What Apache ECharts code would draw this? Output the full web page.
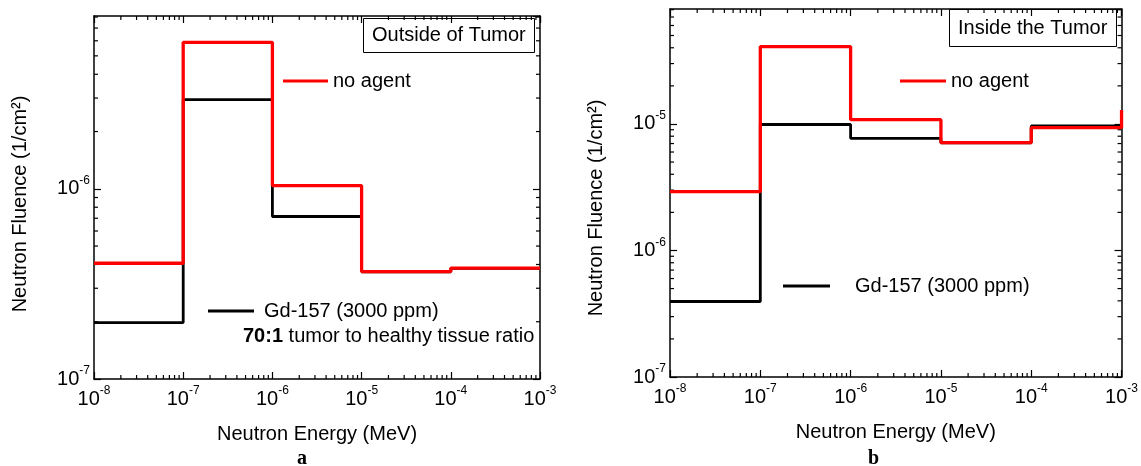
<!DOCTYPE html>
<html>
<head>
<meta charset="utf-8">
<script src="https://cdn.jsdelivr.net/npm/echarts@6/dist/echarts.min.js"></script>
<style>
  html, body { margin: 0; padding: 0; background: #fff; }
  #main { width: 1141px; height: 466px; }
</style>
</head>
<body>
<div id="main"></div>
<script>
// bin edges of the energy groups (MeV)
var energyEdges = [1e-8, 1e-7, 1e-6, 1e-5, 1e-4, 1e-3];

// fluence per group, last entry = value at the upper edge
var outsideNoAgent = [4.06e-7, 5.89e-6, 1.04e-6, 3.67e-7, 3.83e-7, 3.83e-7];
var outsideGd = [1.98e-7, 2.94e-6, 7.15e-7, 3.66e-7, 3.82e-7, 3.82e-7];
var insideNoAgent = [2.92e-6, 4.09e-5, 1.08e-5, 7.11e-6, 9.35e-6, 1.29e-5];
var insideGd = [3.95e-7, 9.9e-6, 7.7e-6, 7.1e-6, 9.64e-6, 9.64e-6];

var xRange = [1e-8, 1e-3];
var yRangeOut = [1e-7, 8.1e-6];
var yRangeIn = [1e-7, 8.1e-5];

// minor log ticks
var minorMult = [2, 3, 4, 5, 6, 7, 8, 9];
var xDecades = [-8, -7, -6, -5, -4];
var yDecadesOut = [-7, -6];
var yDecadesIn = [-7, -6, -5];

var FONT = '"Liberation Sans", Arial, sans-serif';

function stepData(vals) {
    return energyEdges.map(function (e, i) { return [e, vals[i]]; });
}

function minorTicks(xr, yr, yDec) {
    var out = [];
    xDecades.forEach(function (d) {
        minorMult.forEach(function (m) { out.push([m * Math.pow(10, d), yr[0], 0]); });
    });
    yDec.forEach(function (d) {
        minorMult.forEach(function (m) {
            var v = m * Math.pow(10, d);
            if (v <= yr[1]) out.push([xr[0], v, 1]);
        });
    });
    return out;
}

function tickRenderer(xr, yr) {
    return function (params, api) {
        var kind = api.value(2);
        var L = 4;
        var st = { stroke: '#000', lineWidth: 1.2 };
        if (kind === 0) {
            var v = api.value(0);
            var b = api.coord([v, yr[0]]), t = api.coord([v, yr[1]]);
            return { type: 'group', children: [
                { type: 'line', shape: { x1: b[0], y1: b[1], x2: b[0], y2: b[1] - L }, style: st },
                { type: 'line', shape: { x1: t[0], y1: t[1], x2: t[0], y2: t[1] + L }, style: st }
            ] };
        }
        var w = api.value(1);
        var l = api.coord([xr[0], w]), r = api.coord([xr[1], w]);
        return { type: 'group', children: [
            { type: 'line', shape: { x1: l[0], y1: l[1], x2: l[0] + L, y2: l[1] }, style: st },
            { type: 'line', shape: { x1: r[0], y1: r[1], x2: r[0] - L, y2: r[1] }, style: st }
        ] };
    };
}

function powLabel(v) {
    var e = Math.round(Math.log10(v));
    if (Math.abs(Math.log10(v) - e) > 1e-6) return '';
    return '{b|10}{s|' + e + '}';
}

var labelRich = {
    b: { fontSize: 20, fontFamily: FONT, color: '#000', lineHeight: 28 },
    s: { fontSize: 12, fontFamily: FONT, color: '#000', lineHeight: 12, verticalAlign: 'top' }
};

function xAxes(gridIndex) {
    var base = {
        type: 'log', logBase: 10, gridIndex: gridIndex, min: xRange[0], max: xRange[1],
        axisLine: { lineStyle: { color: '#000', width: 1.5 } },
        axisTick: { inside: true, length: 7, lineStyle: { color: '#000', width: 1.2 } },
        splitLine: { show: false }
    };
    var bottom = Object.assign({}, base, {
        position: 'bottom',
        name: 'Neutron Energy (MeV)', nameLocation: 'middle', nameGap: 45,
        nameTextStyle: { fontSize: 20, fontFamily: FONT, color: '#000' },
        axisLabel: { margin: 6, formatter: powLabel, rich: labelRich }
    });
    var top = Object.assign({}, base, { position: 'top', axisLabel: { show: false } });
    return [bottom, top];
}

function yAxes(gridIndex, yr, padRight) {
    var base = {
        type: 'log', logBase: 10, gridIndex: gridIndex, min: yr[0], max: yr[1],
        axisLine: { lineStyle: { color: '#000', width: 1.5 } },
        axisTick: { inside: true, length: 7, lineStyle: { color: '#000', width: 1.2 } },
        splitLine: { show: false }
    };
    var left = Object.assign({}, base, {
        position: 'left',
        name: 'Neutron Fluence (1/cm²)', nameLocation: 'middle', nameGap: 64,
        nameTextStyle: { fontSize: 20, fontFamily: FONT, color: '#000', padding: [0, padRight, 0, 0] },
        axisLabel: { margin: 4, showMaxLabel: false, formatter: powLabel, rich: labelRich }
    });
    var right = Object.assign({}, base, { position: 'right', axisLabel: { show: false } });
    return [left, right];
}

function stepSeries(name, vals, color, width, xi, yi) {
    return {
        name: name, type: 'line', step: 'end', xAxisIndex: xi, yAxisIndex: yi,
        symbol: 'none', data: stepData(vals),
        itemStyle: { color: color },
        lineStyle: { color: color, width: width }
    };
}

function legendBox(name, left, top, w, pad) {
    return {
        data: [name], left: left, top: top, padding: 0, orient: 'horizontal',
        icon: 'rect', itemWidth: w, itemHeight: 3, selectedMode: false,
        textStyle: { fontSize: 20, fontFamily: FONT, color: '#000', lineHeight: 20, padding: [0, 0, 0, pad] }
    };
}

var option = {
    animation: false,
    backgroundColor: '#fff',
    title: [{
        text: 'Outside of Tumor', left: 363, top: 18, padding: [7, 9],
        borderColor: '#000', borderWidth: 1,
        textStyle: { fontSize: 20, fontWeight: 'normal', fontFamily: FONT, color: '#000', lineHeight: 21 }
    }, {
        text: 'Inside the Tumor', left: 949, top: 9, padding: [9, 9],
        borderColor: '#000', borderWidth: 1,
        textStyle: { fontSize: 20, fontWeight: 'normal', fontFamily: FONT, color: '#000', lineHeight: 20 }
    }],
    legend: [
        legendBox('no agent', 283, 71, 45, 0),
        legendBox('Gd-157 (3000 ppm)', 208, 301, 46, 5),
        legendBox('no agent', 900, 71, 46, 0),
        legendBox('Gd-157 (3000 ppm)', 783, 276, 47, 20)
    ],
    grid: [
        { left: 94, right: 601, top: 16, bottom: 87 },
        { left: 670, right: 19, top: 9, bottom: 89 }
    ],
    xAxis: xAxes(0).concat(xAxes(1)),
    yAxis: yAxes(0, yRangeOut, 13).concat(yAxes(1, yRangeIn, 30)),
    graphic: [{
        type: 'text', left: 243, top: 326,
        style: {
            text: '{b|70:1} tumor to healthy tissue ratio',
            font: '20px ' + FONT, fill: '#000',
            rich: { b: { fontWeight: 'bold', fontSize: 20, fontFamily: FONT } }
        }
    }, {
        type: 'text', left: 297, top: 449,
        style: { text: 'a', font: 'bold 20px "Liberation Serif", "Times New Roman", serif', fill: '#000' }
    }, {
        type: 'text', left: 868, top: 449,
        style: { text: 'b', font: 'bold 20px "Liberation Serif", "Times New Roman", serif', fill: '#000' }
    }],
    series: [
        stepSeries('Gd-157 (3000 ppm)', outsideGd, '#000', 2.8, 0, 0),
        stepSeries('no agent', outsideNoAgent, '#ff0000', 3.3, 0, 0),
        stepSeries('Gd-157 (3000 ppm)', insideGd, '#000', 2.8, 2, 2),
        stepSeries('no agent', insideNoAgent, '#ff0000', 3.3, 2, 2),
        {
            type: 'custom', xAxisIndex: 0, yAxisIndex: 0, silent: true,
            renderItem: tickRenderer(xRange, yRangeOut),
            data: minorTicks(xRange, yRangeOut, yDecadesOut)
        },
        {
            type: 'custom', xAxisIndex: 2, yAxisIndex: 2, silent: true,
            renderItem: tickRenderer(xRange, yRangeIn),
            data: minorTicks(xRange, yRangeIn, yDecadesIn)
        }
    ]
};

var myChart = echarts.init(document.getElementById('main'));
myChart.setOption(option);
</script>
</body>
</html>
